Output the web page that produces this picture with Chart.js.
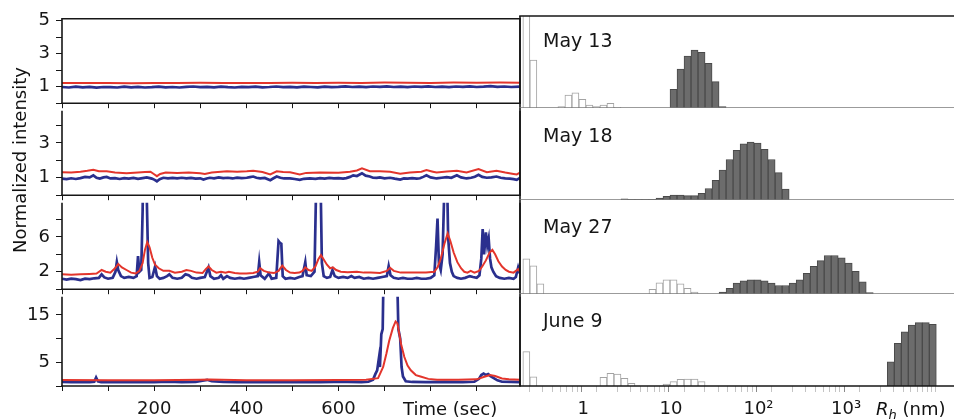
<!DOCTYPE html>
<html>
<head>
<meta charset="utf-8">
<script src="https://cdn.jsdelivr.net/npm/chart.js@4"></script>
<style>
  body { margin: 0; background: #fff; }
  #wrap { position: relative; width: 954px; height: 420px; overflow: hidden; font-family: "DejaVu Sans"; color: #111; }
  .panel { position: absolute; }
  .panel canvas { display: block; }
  .lbl { position: absolute; font-size: 18px; line-height: 22px; white-space: nowrap; z-index: 2; }
</style>
</head>
<body>
<div id="wrap">
  <div class="lbl" style="left:-90px;top:149px;width:220px;text-align:center;transform:rotate(-90deg);">Normalized intensity</div>
  <div class="lbl" style="left:403px;top:398px;">Time (sec)</div>
  <div class="lbl" style="left:876px;top:398px;"><i>R</i><sub style="font-size:13px;font-style:italic;vertical-align:-4px;line-height:0;">h</sub> (nm)</div>
</div>
<script>
//-----------------------------------------------------------------------------
// Data: intensity traces, [time (s), normalized intensity]
const may13Red = [[0,1.22],[50,1.23],[100,1.22],[150,1.21],[200,1.23],[250,1.22],[300,1.24],[350,1.23],[400,1.22],[450,1.23],[500,1.24],[550,1.23],[600,1.24],[650,1.23],[700,1.25],[750,1.24],[800,1.23],[850,1.25],[900,1.24],[950,1.25],[994,1.24]];
const may13Blue = [[0,0.98],[15,0.95],[30,1.0],[45,0.96],[60,0.99],[75,0.94],[90,0.98],[105,0.97],[120,0.95],[135,1.0],[150,0.96],[165,0.99],[180,0.95],[195,0.97],[210,1.0],[225,0.96],[240,0.98],[255,0.95],[270,0.99],[285,1.01],[300,0.97],[315,0.99],[330,0.96],[345,1.0],[360,0.97],[375,0.95],[390,0.99],[405,0.97],[420,1.0],[435,0.96],[450,0.98],[465,1.01],[480,0.97],[495,0.99],[510,0.96],[525,1.0],[540,0.98],[555,0.96],[570,1.0],[585,0.97],[600,0.99],[615,1.02],[630,0.98],[645,1.0],[660,0.97],[675,1.01],[690,0.99],[705,1.02],[720,0.98],[735,1.0],[750,0.97],[765,1.01],[780,0.99],[795,1.02],[810,0.98],[825,1.0],[840,0.97],[855,1.01],[870,0.99],[885,1.02],[900,0.98],[915,1.0],[930,1.03],[945,0.99],[960,1.01],[975,0.98],[994,1.0]];

const may18Red = [[0,1.32],[20,1.3],[40,1.34],[55,1.4],[68,1.46],[80,1.38],[97,1.37],[115,1.3],[140,1.26],[165,1.3],[180,1.33],[192,1.35],[200,1.2],[206,1.09],[213,1.22],[225,1.3],[250,1.28],[275,1.3],[300,1.26],[310,1.22],[325,1.3],[358,1.37],[380,1.35],[401,1.37],[415,1.4],[435,1.33],[452,1.19],[466,1.37],[480,1.33],[495,1.32],[516,1.19],[530,1.28],[560,1.3],[600,1.29],[625,1.35],[640,1.42],[651,1.54],[668,1.37],[690,1.37],[712,1.35],[734,1.23],[755,1.3],[780,1.35],[791,1.44],[805,1.35],[813,1.3],[835,1.36],[857,1.4],[878,1.3],[904,1.5],[922,1.32],[943,1.4],[962,1.3],[980,1.22],[987,1.19],[994,1.3]];
const may18Blue = [[0,0.95],[10,0.92],[20,0.97],[30,0.93],[40,0.98],[50,1.05],[60,1.02],[68,1.14],[75,1.0],[82,0.95],[90,1.02],[97,1.05],[105,0.96],[115,0.98],[125,0.93],[135,0.98],[145,0.95],[155,0.99],[165,0.94],[175,0.98],[184,1.02],[195,0.95],[201,0.88],[206,0.8],[212,0.92],[220,1.0],[230,0.97],[240,0.99],[250,0.96],[260,1.0],[270,0.97],[280,0.99],[290,0.95],[300,0.97],[307,0.9],[314,0.96],[321,1.0],[330,0.97],[340,1.02],[350,0.98],[360,1.0],[370,0.96],[380,1.01],[390,0.98],[401,1.0],[408,1.04],[415,1.07],[422,1.0],[430,0.97],[440,0.99],[452,0.86],[459,0.97],[466,1.07],[474,1.0],[482,0.96],[495,0.96],[505,0.93],[516,0.88],[525,0.94],[538,0.97],[550,0.94],[560,0.98],[570,0.95],[580,0.99],[590,0.96],[600,0.98],[610,0.95],[617,0.98],[625,1.05],[632,1.14],[640,1.1],[651,1.26],[659,1.12],[668,1.07],[675,1.0],[683,0.99],[690,1.02],[700,0.97],[712,1.0],[722,0.95],[734,0.9],[742,0.96],[750,0.95],[760,0.98],[770,0.95],[777,0.97],[784,1.05],[791,1.14],[800,1.02],[813,0.96],[824,1.0],[835,1.04],[845,1.0],[857,1.14],[866,1.02],[878,0.96],[888,1.0],[896,1.06],[904,1.17],[912,1.05],[922,1.0],[932,1.02],[943,1.07],[952,1.0],[962,0.97],[972,0.95],[980,0.92],[987,0.88],[994,1.0]];

const may27Red = [[0,1.7],[20,1.65],[40,1.7],[60,1.75],[75,1.8],[86,2.2],[95,2.0],[105,1.9],[115,2.4],[122,2.9],[130,2.5],[140,2.2],[150,1.9],[160,1.8],[168,2.1],[175,3.0],[180,4.5],[185,5.4],[190,4.8],[196,3.6],[202,2.8],[210,2.4],[220,2.1],[233,2.1],[245,1.9],[260,2.0],[270,2.2],[280,2.1],[292,1.9],[305,1.85],[312,2.3],[318,2.6],[325,2.2],[335,1.9],[345,2.0],[355,1.9],[362,2.0],[375,1.85],[386,1.8],[400,1.8],[415,1.85],[425,2.0],[430,2.4],[438,2.1],[450,1.9],[460,1.85],[470,2.1],[478,2.7],[486,2.2],[495,1.9],[505,1.85],[515,1.9],[522,2.1],[528,2.5],[535,2.2],[542,2.1],[550,2.6],[556,3.4],[562,3.9],[568,3.4],[575,2.8],[582,2.4],[588,2.5],[595,2.2],[605,2.0],[620,1.95],[640,2.0],[655,1.9],[670,1.9],[690,1.85],[705,2.1],[712,2.45],[720,2.1],[735,1.9],[760,1.9],[790,1.9],[808,2.0],[815,2.5],[822,3.5],[830,5.2],[837,6.4],[843,5.5],[850,4.2],[858,3.1],[866,2.4],[873,2.0],[880,1.9],[887,2.1],[895,1.9],[905,2.1],[912,2.6],[920,3.3],[928,4.2],[934,4.5],[940,4.0],[947,3.2],[955,2.6],[963,2.2],[970,2.0],[980,1.9],[990,2.3],[994,2.0]];
const may27Blue = [[0,1.2],[10,1.1],[20,1.2],[30,1.15],[40,1.05],[50,1.2],[60,1.15],[70,1.25],[80,1.3],[86,1.7],[92,1.35],[100,1.2],[110,1.3],[116,2.0],[119,3.1],[122,2.2],[128,1.5],[135,1.3],[145,1.4],[155,1.3],[162,1.5],[165,3.8],[168,2.0],[172,2.2],[175,9],[176,13],[183,13],[185,8],[187,3],[190,1.3],[196,1.4],[202,2.6],[206,1.5],[212,1.2],[220,1.3],[228,1.5],[233,1.7],[240,1.3],[250,1.2],[260,1.3],[268,1.7],[275,1.6],[282,1.3],[292,1.2],[300,1.3],[310,1.4],[318,2.5],[322,1.5],[330,1.2],[340,1.3],[345,1.6],[350,1.2],[358,1.5],[365,1.3],[375,1.2],[386,1.3],[395,1.2],[405,1.3],[415,1.4],[425,1.5],[428,3.1],[431,1.6],[440,1.2],[449,1.8],[455,1.2],[465,1.3],[470,5.5],[473,5.3],[476,5.2],[479,1.5],[485,1.2],[495,1.3],[505,1.2],[515,1.4],[522,1.5],[528,3.1],[531,1.6],[540,1.5],[548,2.0],[552,13],[561,13],[564,3.0],[568,1.5],[575,1.3],[582,1.4],[587,2.2],[592,1.5],[600,1.3],[610,1.4],[620,1.3],[628,1.5],[635,1.3],[645,1.4],[655,1.2],[665,1.3],[675,1.2],[685,1.3],[695,1.4],[705,1.5],[709,2.65],[713,1.6],[720,1.3],[730,1.2],[740,1.3],[750,1.2],[760,1.2],[770,1.3],[780,1.2],[790,1.2],[800,1.3],[808,1.6],[812,5],[815,8.1],[818,3],[822,2.2],[826,4],[830,12],[836,12],[838,6],[842,3],[846,2],[850,1.5],[858,1.3],[866,1.2],[875,1.3],[885,1.5],[892,1.4],[900,1.3],[906,1.6],[910,3.5],[913,6.9],[916,4],[920,6.5],[923,5.0],[926,5.8],[929,3.5],[932,2.5],[936,2.0],[942,1.5],[950,1.3],[960,1.2],[970,1.3],[980,1.2],[985,1.4],[990,2.5],[994,1.8]];

const jun9Red = [[0,1.25],[100,1.2],[200,1.2],[300,1.3],[320,1.35],[400,1.2],[500,1.2],[600,1.25],[660,1.3],[686,1.65],[697,4.0],[704,6.8],[710,9.5],[718,12.2],[724,13.6],[728,13.2],[736,8.8],[743,6.1],[750,4.3],[757,3.3],[768,2.3],[778,2.0],[795,1.5],[814,1.3],[860,1.3],[900,1.4],[915,1.9],[929,2.3],[940,2.1],[955,1.6],[970,1.4],[994,1.3]];
const jun9Blue = [[0,0.85],[20,0.8],[40,0.85],[60,0.8],[70,0.9],[74,1.8],[78,1.0],[85,0.8],[110,0.85],[140,0.8],[170,0.85],[200,0.8],[230,0.9],[260,0.8],[290,0.85],[305,1.1],[315,1.3],[325,1.0],[350,0.85],[380,0.8],[410,0.85],[440,0.8],[470,0.85],[500,0.8],[530,0.85],[560,0.8],[590,0.85],[620,0.85],[650,0.8],[665,0.9],[675,1.3],[680,2.5],[684,3.3],[688,6],[690,4],[693,10.9],[696,12],[698,25],[727,25],[730,12],[734,10],[737,4],[740,2],[746,1.0],[760,0.85],[790,0.8],[830,0.85],[870,0.8],[895,0.9],[905,1.5],[910,2.3],[915,2.6],[920,2.3],[925,2.5],[930,2.1],[938,1.6],[945,1.2],[955,0.9],[975,0.85],[994,0.8]];

// Ticks / labels of the trace panels
const timeMax = 994;
const timeTicks = [0, 100, 200, 300, 400, 500, 600, 700, 800, 900];
const timeLabels = [200, 400, 600];
const traceYMax = [5.11, 4.84, 9.9, 18.8];
const traceYTicks = [[0, 1, 2, 3, 4, 5], [0, 1, 2, 3, 4], [0, 2, 4, 6, 8], [0, 5, 10, 15]];
const traceYLabels = [[1, 3, 5], [1, 3], [2, 6], [5, 15]];

// Size distributions: log10 bins (Rh in nm), heights in % of panel
const binOrigin = 0.99;   // log10 Rh of the left edge of bin 0
const binStep = 0.08;     // bin width in decades
const may13OpenStart = -21;
const may13Open = [120, 52, null, null, null, 1.5, 14, 16.6, 9.4, 3.3, 1.5, 3.3, 5.1, 0.8];
const may13FillStart = 0;
const may13Fill = [20.3, 42.4, 56.5, 63, 60.5, 48.6, 28.6, 1.5];
const may18OpenStart = -21;
const may18Open = [];
const may18FillStart = -7;
const may18Fill = [1.2, 0.6, 0.6, 0.6, 0.6, 2.1, 3.9, 5.4, 5.4, 4.7, 4.7, 7.2, 12.5, 21.5, 32.6, 44, 54, 61, 63, 62, 55, 44, 29.7, 11.8];
const may27OpenStart = -21;
const may27Open = [37.3, 30, 10.7, null, null, null, null, null, null, null, null, null, null, null, null, null, null, null, 5, 12, 15, 15, 10.7, 6, 2];
const may27FillStart = 7;
const may27Fill = [2, 6, 11.5, 14, 15, 15, 14, 11.5, 9, 9, 11.5, 15, 22, 29.4, 35.5, 41, 41, 38.4, 33, 24, 13, 1.4];
const jun9OpenStart = -21;
const jun9Open = [37.3, 10, null, null, null, null, null, null, null, null, null, 9.4, 13.8, 13, 8.3, 2.9, null, null, null, null, 2, 4.7, 7.2, 7.6, 7.6, 4.7];
const jun9FillStart = 31;
const jun9Fill = [26.4, 46.4, 59, 66.3, 68.8, 68.8, 67];

const panelNames = ['May 13', 'May 18', 'May 27', 'June 9'];
const sizeMin = 0.1894, sizeMax = 17055;
const sizeDecades = [1, 10, 100, 1000];
const sizeDecadeLabels = ['1', '10', '10²', '10³'];

//-----------------------------------------------------------------------------
// Layout
const rows = [16, 108, 200, 294, 386];     // panel edges (page px)
const nameBaseline = [31, 34, 33, 33];
const wrap = document.getElementById('wrap');
const BLACK = '#161616';

Chart.defaults.font.family = 'DejaVu Sans';
Chart.defaults.font.size = 18;
Chart.defaults.color = '#161616';
Chart.defaults.animation = false;

const framePlugin = {
  id: 'frame',
  afterDraw(chart, args, opts) {
    const {ctx, chartArea: a} = chart;
    ctx.save();
    (opts.sides || []).forEach(function(s) {
      ctx.beginPath();
      ctx.strokeStyle = s.color || BLACK;
      ctx.lineWidth = s.width || 1.6;
      if (s.side === 'top') { ctx.moveTo(a.left - 0.8, a.top); ctx.lineTo(a.right + 0.8, a.top); }
      if (s.side === 'bottom') { ctx.moveTo(a.left - 0.8, a.bottom); ctx.lineTo(a.right + 0.8, a.bottom); }
      if (s.side === 'left') { ctx.moveTo(a.left, a.top); ctx.lineTo(a.left, a.bottom); }
      if (s.side === 'right') { ctx.moveTo(a.right, a.top); ctx.lineTo(a.right, a.bottom); }
      ctx.stroke();
    });
    if (opts.label) {
      ctx.font = '19px "DejaVu Sans"';
      ctx.fillStyle = BLACK;
      ctx.textBaseline = 'alphabetic';
      ctx.fillText(opts.label, a.left + 23, a.top + opts.labelY);
    }
    ctx.restore();
  }
};

function addPanel(left, top, width, height) {
  const div = document.createElement('div');
  div.className = 'panel';
  div.style.left = left + 'px';
  div.style.top = top + 'px';
  div.style.width = width + 'px';
  div.style.height = height + 'px';
  const cv = document.createElement('canvas');
  div.appendChild(cv);
  wrap.appendChild(div);
  return cv;
}

function toXY(pairs) {
  return pairs.map(p => ({x: p[0], y: p[1]}));
}

//-----------------------------------------------------------------------------
// Left: intensity traces
function makeTrace(i, red, blue) {
  const last = i === 3;
  const padTop = 14, xH = last ? 34 : 12;
  const h = rows[i + 1] - rows[i];
  const cv = addPanel(0, rows[i] - padTop, 530, padTop + h + xH);
  const labels = traceYLabels[i];
  const sides = [{side: 'left'}, {side: 'right'}, {side: 'bottom'}];
  if (i === 0) sides.push({side: 'top'});
  new Chart(cv, {
    type: 'line',
    data: {
      datasets: [
        {data: toXY(red), borderColor: '#e3352c', borderWidth: 2, clip: 0},
        {data: toXY(blue), borderColor: '#2a2f8e', borderWidth: 2.7, clip: 0}
      ]
    },
    options: {
      responsive: true,
      maintainAspectRatio: false,
      layout: {padding: {top: padTop, right: 10, left: 0, bottom: 0}},
      elements: {point: {radius: 0}, line: {tension: 0}},
      plugins: {legend: {display: false}, tooltip: {enabled: false}, frame: {sides: sides}},
      scales: {
        x: {
          type: 'linear', min: 0, max: timeMax,
          border: {display: false},
          grid: {drawOnChartArea: false, tickLength: 5, color: BLACK},
          afterBuildTicks: s => { s.ticks = timeTicks.map(v => ({value: v})); },
          ticks: {
            display: last, autoSkip: false, maxRotation: 0, padding: 8,
            callback: v => timeLabels.includes(v) ? String(v) : ''
          },
          afterFit: s => { s.height = xH; }
        },
        y: {
          min: 0, max: traceYMax[i],
          border: {display: false},
          grid: {drawOnChartArea: false, tickLength: 6, color: BLACK},
          afterBuildTicks: s => { s.ticks = traceYTicks[i].map(v => ({value: v})); },
          ticks: {
            autoSkip: false, padding: 6,
            callback: v => labels.includes(v) ? String(v) : ''
          },
          afterFit: s => { s.width = 62; }
        }
      }
    },
    plugins: [framePlugin]
  });
}

makeTrace(0, may13Red, may13Blue);
makeTrace(1, may18Red, may18Blue);
makeTrace(2, may27Red, may27Blue);
makeTrace(3, jun9Red, jun9Blue);

//-----------------------------------------------------------------------------
// Right: size histograms
function bins(start, heights) {
  return heights.map((v, k) => ({x: Math.pow(10, binOrigin + binStep * (start + k + 0.5)), y: v}));
}

function makeHist(i, openStart, open, fillStart, fill) {
  const last = i === 3;
  const padTop = 4, xH = last ? 34 : 0;
  const h = rows[i + 1] - rows[i];
  const cv = addPanel(515, rows[i] - padTop, 439, padTop + h + xH);
  const sides = [{side: 'left'}, {side: 'bottom', color: last ? BLACK : '#7a7a7a', width: last ? 1.6 : 1.3}];
  if (i === 0) sides.push({side: 'top'});
  const barOpts = {type: 'bar', barThickness: 'flex', categoryPercentage: 1, barPercentage: 1, borderWidth: 1, clip: 0};
  new Chart(cv, {
    type: 'bar',
    data: {
      datasets: [
        Object.assign({data: bins(openStart, open), backgroundColor: '#ffffff', borderColor: '#a3a3a3'}, barOpts),
        Object.assign({data: bins(fillStart, fill), backgroundColor: '#6c6c6c', borderColor: '#4a4a4a'}, barOpts)
      ]
    },
    options: {
      responsive: true,
      maintainAspectRatio: false,
      layout: {padding: {top: padTop, right: 0, left: 5, bottom: 0}},
      plugins: {legend: {display: false}, tooltip: {enabled: false},
        frame: {sides: sides, label: panelNames[i], labelY: nameBaseline[i]}},
      scales: {
        x: {
          type: 'logarithmic', min: sizeMin, max: sizeMax, stacked: true,
          display: last,
          border: {display: false},
          grid: {
            drawOnChartArea: false, tickLength: 6,
            tickColor: c => (c.tick && sizeDecades.includes(c.tick.value)) ? '#8a8a8a' : '#c4c4c4'
          },
          afterBuildTicks: scale => {
            const t = [];
            [0.1, 1, 10, 100, 1000, 10000].forEach(d => {
              for (let m = 1; m < 10; m++) {
                const v = d * m;
                if (v >= sizeMin && v <= sizeMax) t.push({value: v, major: m === 1});
              }
            });
            scale.ticks = t;
          },
          ticks: {
            autoSkip: false, maxRotation: 0, padding: 7,
            callback: v => { const k = sizeDecades.indexOf(v); return k >= 0 ? sizeDecadeLabels[k] : ''; }
          },
          afterFit: s => { s.height = xH; }
        },
        y: {display: false, min: 0, max: 100}
      }
    },
    plugins: [framePlugin]
  });
}

makeHist(0, may13OpenStart, may13Open, may13FillStart, may13Fill);
makeHist(1, may18OpenStart, may18Open, may18FillStart, may18Fill);
makeHist(2, may27OpenStart, may27Open, may27FillStart, may27Fill);
makeHist(3, jun9OpenStart, jun9Open, jun9FillStart, jun9Fill);
</script>
</body>
</html>
